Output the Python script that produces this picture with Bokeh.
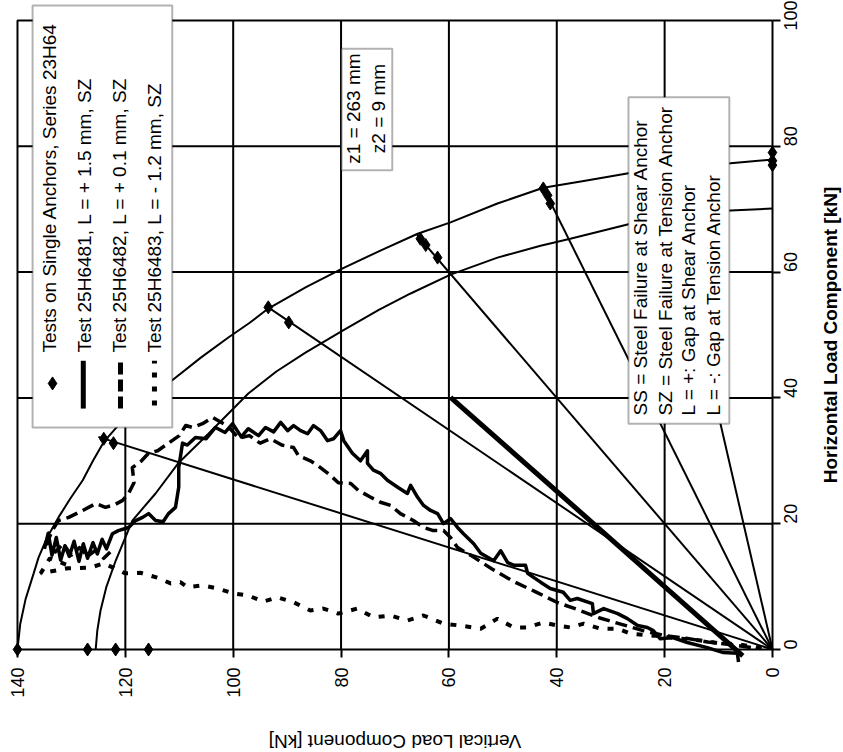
import math
from bokeh.plotting import figure
from bokeh.models import Range1d, FixedTicker, Label, BoxAnnotation, LinearAxis
from bokeh.embed import file_html
from bokeh.resources import INLINE

# ---------------- data (V = vertical load, H = horizontal load, kN) ----------------
V_TICKS = [0, 20, 40, 60, 80, 100, 120, 140]
H_TICKS = [0, 20, 40, 60, 80, 100]
V_MAX = 140
H_MAX = 100

OUTER_V = [140, 139.5, 138.5, 137.0, 136.1, 134.5, 132.4, 130.2, 127.9, 126.0, 124.0, 120.0,
           116.0, 111.3, 106.0, 100.9, 97.0, 93.5, 86.5, 79.7, 72.5, 65.8, 59.7, 51.0, 42.5,
           35.0, 26.7, 18.0, 7.8, 0]
OUTER_H = [0, 4.0, 8.0, 12.1, 14.6, 17.8, 21.0, 24.0, 26.9, 30.0, 33.0, 36.9,
           40.0, 42.8, 46.4, 49.6, 51.9, 54.2, 57.6, 60.6, 63.5, 66.1, 67.9, 70.9, 73.4,
           74.5, 75.7, 76.6, 77.3, 77.9]

INNER_V = [125.5, 125.2, 124.6, 123.5, 121.8, 118.7, 114.4, 110.1, 104.6, 97.2, 92.0, 86.6,
           79.7, 73.0, 67.1, 59.7, 51.0, 43.0, 37.5, 26.7, 17.0, 7.8, 0]
INNER_H = [0, 3.0, 6.2, 10.0, 14.1, 20.5, 24.8, 29.7, 34.3, 40.7, 44.2, 47.2,
           50.7, 54.0, 56.6, 59.6, 62.3, 64.2, 65.3, 67.6, 69.0, 69.8, 70.1]

RAY_END_V = [125.0, 93.5, 65.9, 42.5, 20.5]
RAY_END_H = [33.8, 54.4, 65.9, 73.4, 76.3]

THICK_V = [59.7, 5.5]
THICK_H = [40.1, -1.0]

SINGLE_V = [140, 127.0, 121.8, 115.7, 124.0, 122.2, 93.5, 89.7, 65.3, 64.3, 62.1,
            42.5, 41.7, 41.2, 0, 0, 0]
SINGLE_H = [0, 0, 0, 0, 33.5, 32.8, 54.4, 52.0, 65.3, 64.3, 62.3,
            73.3, 72.2, 70.9, 79.0, 77.7, 77.0]

T6481_V = [6.3, 6.5, 9.1, 12.1, 15.8, 18.5, 20.8, 22.1, 23.2, 25.0, 26.9, 28.7, 31.3, 33.2,
           33.4, 36.2, 37.5, 38.8, 41.2, 43.0, 45.4, 45.8, 48.0, 49.1, 50.4, 51.7, 54.1,
           55.4, 57.3, 58.4, 59.7, 61.0, 62.1, 63.4, 64.7, 65.8, 67.1, 67.7, 69.5, 71.4,
           72.7, 74.0, 75.1, 75.1, 76.4, 77.9, 79.5, 80.1, 81.4, 82.5, 83.8, 85.1, 86.2,
           87.5, 88.8, 89.9, 91.2, 92.5, 94.0, 95.3, 97.2, 98.5, 100.1, 101.5, 103.3,
           105.0, 107.0, 108.5, 109.4, 110.1, 110.1, 110.7, 112.0, 113.0, 114.4, 115.7,
           116.8, 118.1, 119.4, 121.3, 122.4, 123.5, 124.3, 125.2, 126.0, 127.0, 127.8,
           128.6, 129.5, 130.4, 131.2, 132.0, 132.8, 133.6, 134.3, 135.0]
T6481_H = [-2.0, -0.6, -0.5, 0.3, 1.1, 1.9, 1.7, 3.0, 3.5, 3.8, 4.9, 5.7, 6.5, 5.7,
           7.3, 8.1, 7.8, 9.1, 9.7, 10.7, 12.1, 13.4, 13.4, 13.8, 15.7, 14.1, 15.3,
           16.8, 18.4, 19.4, 20.8, 20.0, 21.6, 22.1, 22.9, 24.2, 26.1, 24.8, 25.8, 26.9,
           28.0, 28.5, 29.6, 31.6, 30.0, 31.2, 33.2, 34.8, 33.5, 33.2, 34.8, 35.6, 34.3,
           34.8, 35.6, 34.8, 36.1, 34.6, 35.3, 34.0, 35.1, 33.8, 35.9, 34.5, 35.3,
           33.5, 33.7, 32.5, 32.8, 28.9, 25.8, 22.6, 21.6, 20.3, 20.5, 21.6,
           21.0, 20.5, 19.4, 18.9, 18.4, 16.0, 17.5, 15.2, 17.0, 14.5, 16.8,
           14.0, 17.2, 14.8, 16.5, 14.2, 17.8, 15.0, 18.5, 16.0]

T6482_V = [4.0, 8.0, 12.0, 16.0, 20.0, 24.0, 28.0, 32.0, 36.0, 40.0, 44.0, 48.0, 52.0,
           56.0, 58.4, 59.7, 61.0, 62.9, 64.7, 66.6, 69.0, 70.8, 72.7, 74.5, 76.8, 78.2,
           80.5, 82.0, 84.4, 85.7, 87.9, 88.8, 91.0, 93.1, 95.0, 97.0, 99.0, 101.0, 103.8,
           105.7, 107.5, 108.8, 110.0, 112.0, 114.0, 115.7, 117.0, 118.7, 118.4, 119.4,
           120.5, 122.0, 123.7, 125.5, 127.9, 130.5, 132.4, 133.5, 134.5, 133.0, 131.5,
           130.0, 128.5, 127.0, 125.5, 124.0, 122.8]
T6482_H = [0.3, 0.8, 1.2, 1.8, 2.2, 3.0, 4.0, 5.0, 6.3, 7.5, 9.2, 10.8, 12.8,
           15.0, 16.2, 17.8, 18.9, 18.9, 19.4, 20.5, 21.6, 22.9, 23.4, 24.2, 25.3, 26.4,
           26.5, 27.7, 29.3, 30.0, 30.8, 32.1, 32.5, 33.5, 32.8, 34.0, 33.6, 35.5, 36.9,
           35.9, 35.3, 35.6, 34.0, 32.8, 31.6, 31.2, 30.0, 28.9, 26.5, 24.8,
           23.7, 23.0, 22.6, 23.2, 22.1, 21.0, 20.5, 19.0, 17.0, 15.5, 16.8,
           15.0, 16.2, 14.8, 15.8, 14.5, 15.5]

T6483_V = [2.0, 6.0, 10.0, 14.0, 18.0, 22.0, 26.3, 28.7, 31.9, 35.0, 37.5, 39.9, 42.5,
           45.4, 48.0, 51.0, 54.1, 57.9, 61.0, 64.7, 67.7, 70.8, 74.0, 77.0, 80.5, 83.3,
           85.7, 88.8, 91.8, 94.4, 97.3, 99.9, 102.9, 105.7, 108.5, 109.8, 111.6, 114.0,
           117.2, 120.0, 124.0, 126.5, 130.7, 135.7, 134.0, 131.0]
T6483_H = [0.2, 0.8, 1.0, 1.5, 1.8, 2.2, 2.5, 3.3, 3.3, 4.1, 3.5, 3.8, 4.3,
           3.5, 3.5, 4.9, 3.3, 3.8, 4.1, 5.4, 4.6, 5.4, 5.1, 6.5, 5.7, 6.5,
           6.2, 7.5, 8.3, 7.6, 8.6, 8.9, 9.7, 10.2, 9.9, 10.7, 10.5, 11.4,
           12.2, 12.1, 13.7, 13.0, 12.9, 12.1, 14.5, 13.5]

LEGEND_TEXTS = ["Tests on Single Anchors, Series 23H64",
                "Test 25H6481, L = + 1.5 mm, SZ",
                "Test 25H6482, L = + 0.1 mm, SZ",
                "Test 25H6483, L = - 1.2 mm, SZ"]
NOTE_TEXTS = ["SS = Steel Failure at Shear Anchor",
              "SZ = Steel Failure at Tension Anchor",
              "L = +: Gap at Shear Anchor",
              "L = -: Gap at Tension Anchor"]
Z_TEXTS = ["z1 = 263 mm", "z2 = 9 mm"]
H_TITLE = "Horizontal Load Component [kN]"
V_TITLE = "Vertical Load Component [kN]"

FONT = "Liberation Sans"
UP = math.pi / 2

# The frame covers the whole canvas; axes are pinned at V=0 / H=0.
p = figure(width=843, height=752,
           x_range=Range1d(143.15, -13.17), y_range=Range1d(-16.38, 103.18),
           x_axis_type=None, y_axis_type=None,
           output_backend="svg", toolbar_location=None,
           min_border_left=0, min_border_right=0, min_border_top=0, min_border_bottom=0)
p.background_fill_color = "white"
p.border_fill_color = "white"
p.outline_line_color = None
p.grid.visible = False

# grid lines and plot-area border
inner_v = [t for t in V_TICKS if 0 < t < V_MAX]
inner_h = [t for t in H_TICKS if 0 < t < H_MAX]
p.segment(x0=inner_v, y0=[0] * len(inner_v), x1=inner_v, y1=[H_MAX] * len(inner_v),
          line_color="black", line_width=2)
p.segment(x0=[0] * len(inner_h), y0=inner_h, x1=[V_MAX] * len(inner_h), y1=inner_h,
          line_color="black", line_width=2)
p.line([0, V_MAX, V_MAX], [H_MAX, H_MAX, 0], line_color="black", line_width=2)

xaxis = LinearAxis(fixed_location=0, bounds=(0, V_MAX), ticker=FixedTicker(ticks=V_TICKS))
yaxis = LinearAxis(fixed_location=0, bounds=(0, H_MAX), ticker=FixedTicker(ticks=H_TICKS))
for ax in (xaxis, yaxis):
    ax.major_label_orientation = UP
    ax.major_label_text_font = FONT
    ax.major_label_text_font_size = "18px"
    ax.major_label_text_color = "black"
    ax.axis_line_color = "black"
    ax.axis_line_width = 2
    ax.major_tick_line_color = "black"
    ax.major_tick_line_width = 2
    ax.major_tick_out = 8
    ax.major_tick_in = 0
    ax.minor_tick_line_color = None
    ax.major_label_standoff = 10
p.add_layout(xaxis, "below")
p.add_layout(yaxis, "right")

# interaction curves
p.line(OUTER_V, OUTER_H, line_color="black", line_width=2)
p.line(INNER_V, INNER_H, line_color="black", line_width=2)
# rays from origin
p.segment(x0=[0] * len(RAY_END_V), y0=[0] * len(RAY_END_V), x1=RAY_END_V, y1=RAY_END_H,
          line_color="black", line_width=2)
p.line(THICK_V, THICK_H, line_color="black", line_width=5)

# test curves
p.line(T6483_V, T6483_H, line_color="black", line_width=4, line_dash="6 9")
p.line(T6482_V, T6482_H, line_color="black", line_width=3.5, line_dash="12 6", line_join="round")
p.line(T6481_V, T6481_H, line_color="black", line_width=3.5, line_join="round")
p.scatter(SINGLE_V, SINGLE_H, marker="diamond", size=13, color="black")

# legend box
p.add_layout(BoxAnnotation(left=137.2, right=111.3, bottom=35.3, top=102.4,
                           fill_color="white", fill_alpha=1.0,
                           line_color="black", line_width=2))
leg_v = [134.1, 127.5, 121.0, 114.6]
for v, t in zip(leg_v, LEGEND_TEXTS):
    p.add_layout(Label(x=v, y=47.2, text=t, angle=UP, text_font=FONT, text_font_size="19px",
                       text_align="left", text_baseline="middle", text_color="black"))
r = p.scatter([133.5], [42.3], marker="diamond", size=13, color="black")
r.level = "overlay"
r = p.line([127.8, 127.8], [38.3, 45.9], line_color="black", line_width=5)
r.level = "overlay"
r = p.line([120.9, 120.9], [38.3, 45.9], line_color="black", line_width=5, line_dash="12 5")
r.level = "overlay"
r = p.line([114.6, 114.6], [38.8, 45.9], line_color="black", line_width=5, line_dash="5 9")
r.level = "overlay"

# z box
p.add_layout(BoxAnnotation(left=79.9, right=70.5, bottom=76.2, top=95.5,
                           fill_color="white", fill_alpha=1.0,
                           line_color="black", line_width=2))
for v, t in zip([77.6, 73.0], Z_TEXTS):
    p.add_layout(Label(x=v, y=86.0, text=t, angle=UP, text_font=FONT, text_font_size="19px",
                       text_align="center", text_baseline="middle", text_color="black"))

# note box
p.add_layout(BoxAnnotation(left=26.7, right=8.0, bottom=35.9, top=87.8,
                           fill_color="white", fill_alpha=1.0,
                           line_color="black", line_width=2))
for v, t in zip([24.5, 19.9, 15.6, 10.9], NOTE_TEXTS):
    p.add_layout(Label(x=v, y=37.2, text=t, angle=UP, text_font=FONT, text_font_size="19px",
                       text_align="left", text_baseline="middle", text_color="black"))

# axis titles
p.add_layout(Label(x=-10.75, y=H_MAX / 2, text=H_TITLE, angle=UP,
                   text_font=FONT, text_font_size="19px", text_font_style="bold",
                   text_align="center", text_baseline="middle", text_color="black"))
p.add_layout(Label(x=V_MAX / 2, y=-14.6, text=V_TITLE, angle=math.pi,
                   text_font=FONT, text_font_size="19px",
                   text_align="center", text_baseline="middle", text_color="black"))

open("out.html", "w").write(file_html(p, INLINE))
